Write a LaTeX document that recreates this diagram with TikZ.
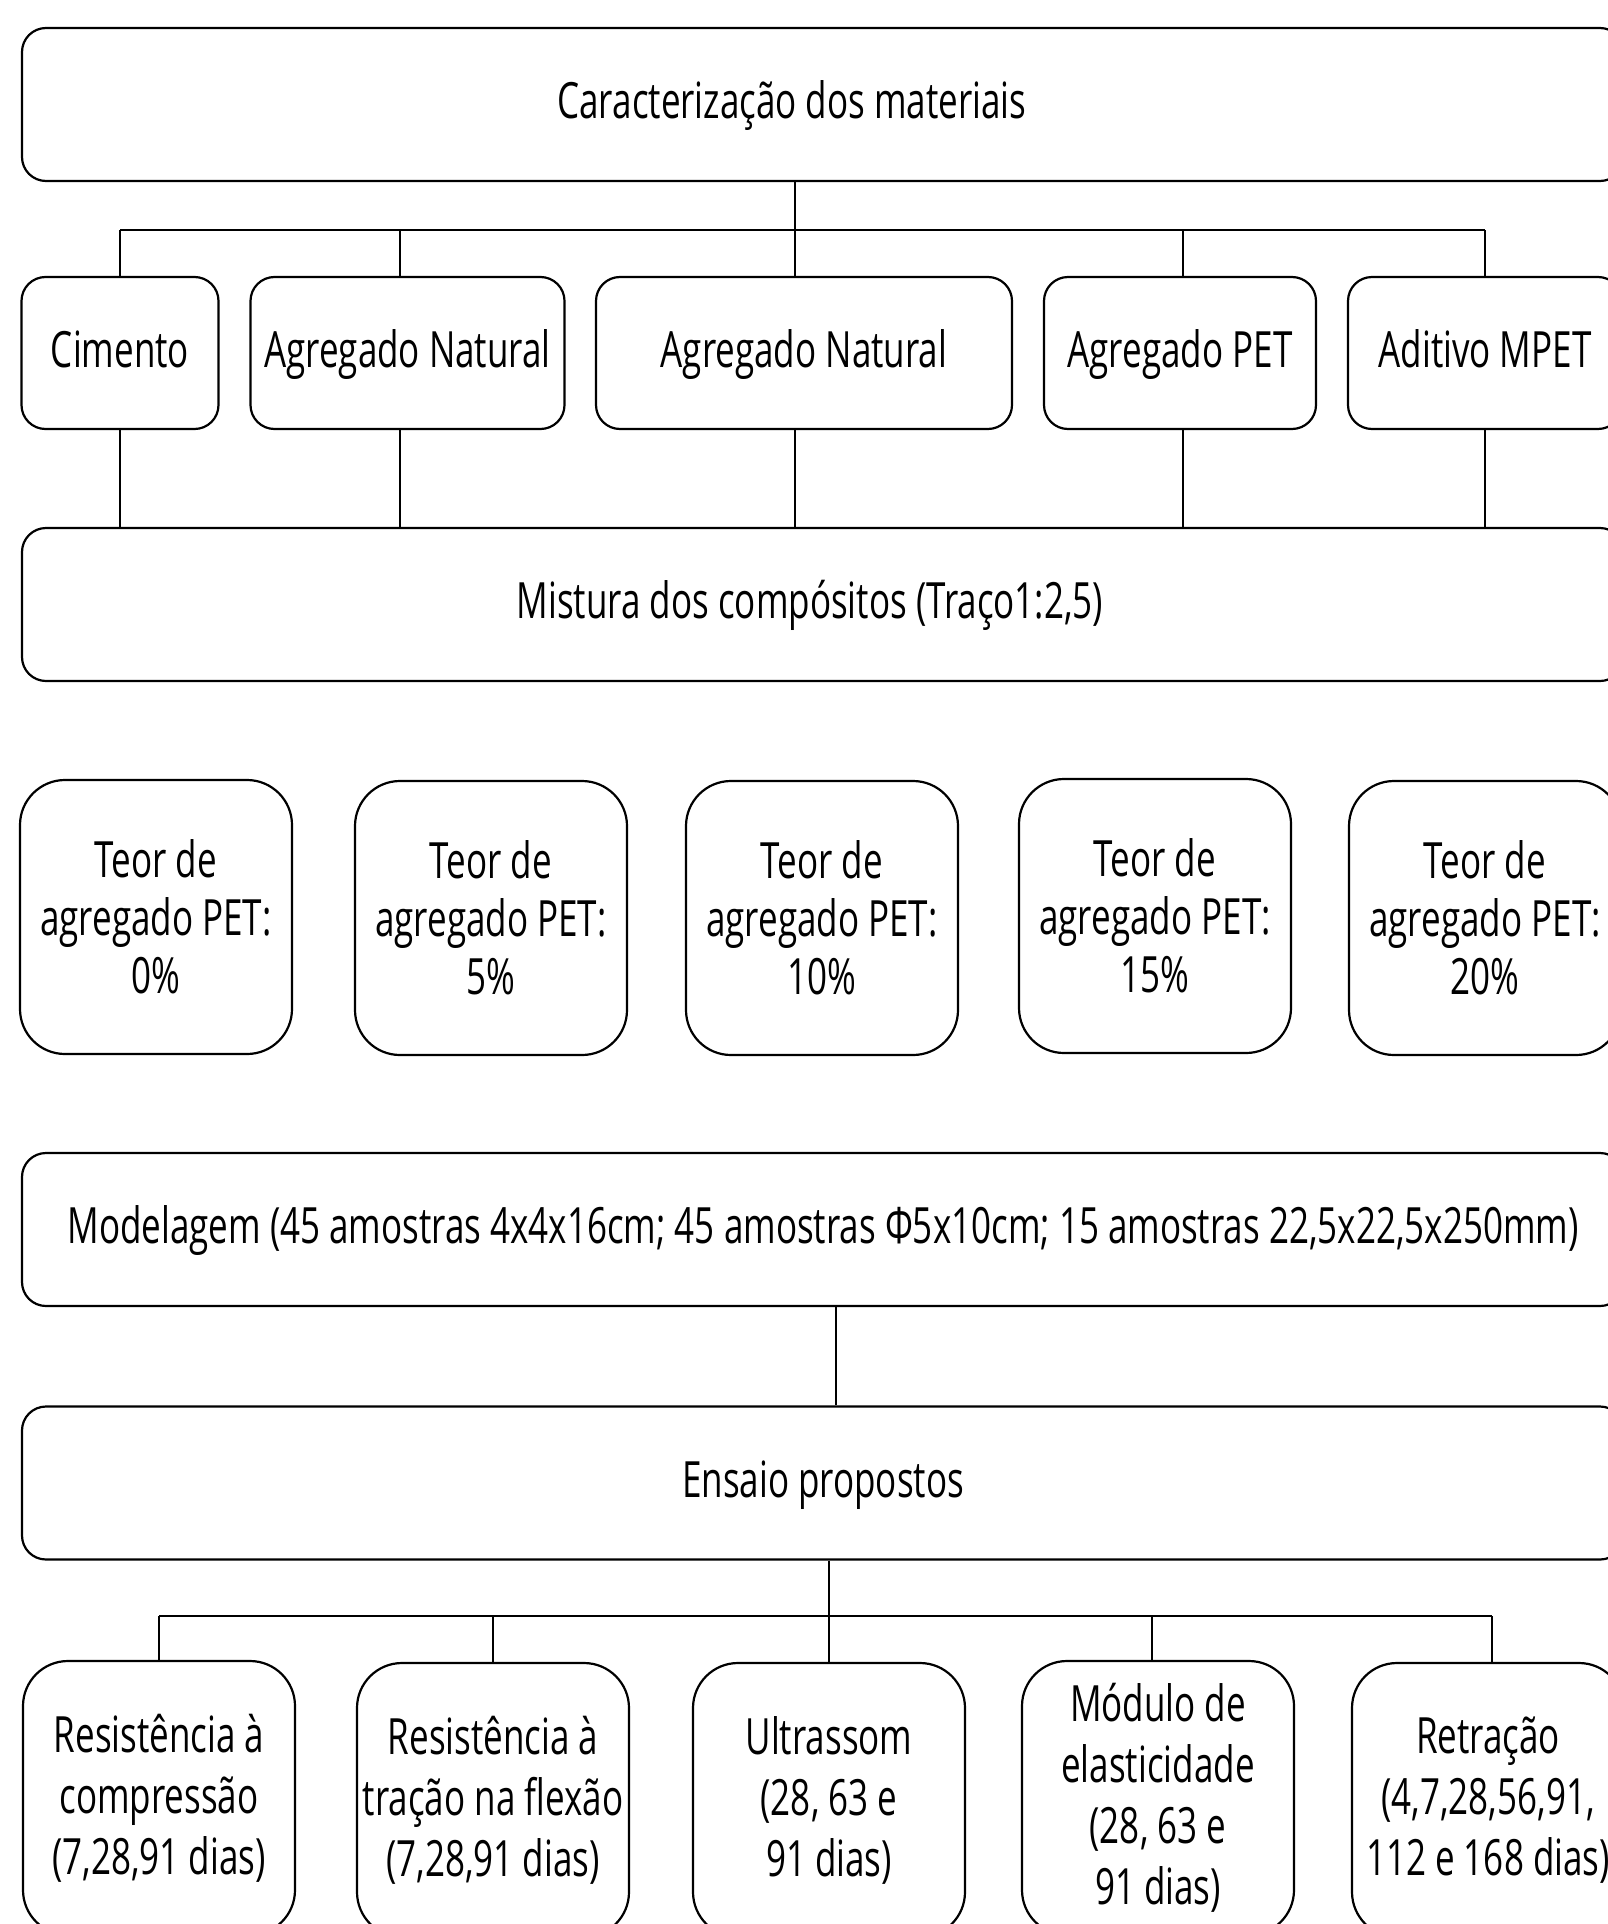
\documentclass[tikz,border=0pt]{standalone}
\usepackage{fontspec}
\setmainfont{Open Sans}[FakeStretch=0.70]
\usepackage{tikz}
\tikzset{
  box/.style={
    draw,
    line width=2.2pt,
    inner sep=0pt,
    align=center,
    font=\fontsize{50}{58}\selectfont
  },
  big box/.style={box, rounded corners=24pt, minimum width=1602pt, minimum height=153pt,
    text height=36pt, text depth=8pt},
  small box/.style={box, rounded corners=24pt, minimum height=152pt,
    text height=36pt, text depth=8pt},
  tall box/.style={box, rounded corners=45pt, minimum width=272pt, minimum height=274pt},
  test box/.style={tall box, font=\fontsize{50}{61}\selectfont},
  link/.style={line width=1.6pt}
}

\begin{document}
\begin{tikzpicture}[x=1pt,y=-1pt]
\path[use as bounding box,clip] (0,0) rectangle (1608,1924);
\node (char) at (823,104.5) [big box] {\hspace*{-62pt}Caracterização dos materiais};
\node (cim) at (120,353) [small box,minimum width=197pt] {Cimento};
\node (an1) at (407.5,353) [small box,minimum width=314pt] {Agregado Natural};
\node (an2) at (804,353) [small box,minimum width=416pt] {Agregado Natural};
\node (pet) at (1180,353) [small box,minimum width=272pt] {Agregado PET};
\node (mpet) at (1485,353) [small box,minimum width=274pt] {Aditivo MPET};
\node (mist) at (823,604.5) [big box] {\hspace*{-26pt}Mistura dos compósitos (Traço1:2,5)};
% teores
\node (t0) at (156,917) [tall box] {Teor de\\agregado PET:\\0\%};
\node (t5) at (491,918) [tall box] {Teor de\\agregado PET:\\5\%};
\node (t10) at (822,918) [tall box] {Teor de\\agregado PET:\\10\%};
\node (t15) at (1155,916) [tall box] {Teor de\\agregado PET:\\15\%};
\node (t20) at (1485,918) [tall box] {Teor de\\agregado PET:\\20\%};
\node (mod) at (823,1229.5) [big box] {Modelagem (45 amostras 4x4x16cm; 45 amostras Φ5x10cm; 15 amostras 22,5x22,5x250mm)};
\node (ens) at (823,1483) [big box] {Ensaio propostos};
% ensaios
\node (r1) at (159,1798) [test box] {Resistência à\\compressão\\(7,28,91 dias)};
\node (r2) at (493,1800) [test box] {Resistência à\\tração na flexão\\(7,28,91 dias)};
\node (r3) at (829,1800) [test box] {Ultrassom\\(28, 63 e\\91 dias)};
\node (r4) at (1158,1798) [test box] {Módulo de\\elasticidade\\(28, 63 e\\91 dias)};
\node (r5) at (1488,1800) [test box] {Retração\\(4,7,28,56,91,\\112 e 168 dias)};
\coordinate (b1) at (120,230);
\coordinate (b2) at (400,230);
\coordinate (b3) at (795,230);
\coordinate (b4) at (1183,230);
\coordinate (b5) at (1485,230);
\draw[link] (b1) -- (b5);
\draw[link] (char.south -| b3) -- (b3);
\draw[link] (b1) -- (cim.north -| b1) (cim.south -| b1) -- (mist.north -| b1);
\draw[link] (b2) -- (an1.north -| b2) (an1.south -| b2) -- (mist.north -| b2);
\draw[link] (b3) -- (an2.north -| b3) (an2.south -| b3) -- (mist.north -| b3);
\draw[link] (b4) -- (pet.north -| b4) (pet.south -| b4) -- (mist.north -| b4);
\draw[link] (b5) -- (mpet.north -| b5) (mpet.south -| b5) -- (mist.north -| b5);
\draw[link] ([xshift=13]mod.south) -- ([xshift=13]ens.north);
\coordinate (d1) at (159,1616);
\coordinate (d2) at (493,1616);
\coordinate (d3) at (829,1616);
\coordinate (d4) at (1152,1616);
\coordinate (d5) at (1492,1616);
\draw[link] (d1) -- (d5);
\draw[link] (ens.south -| d3) -- (d3);
\draw[link] (d1) -- (r1.north -| d1);
\draw[link] (d2) -- (r2.north -| d2);
\draw[link] (d3) -- (r3.north -| d3);
\draw[link] (d4) -- (r4.north -| d4);
\draw[link] (d5) -- (r5.north -| d5);
\end{tikzpicture}
\end{document}
